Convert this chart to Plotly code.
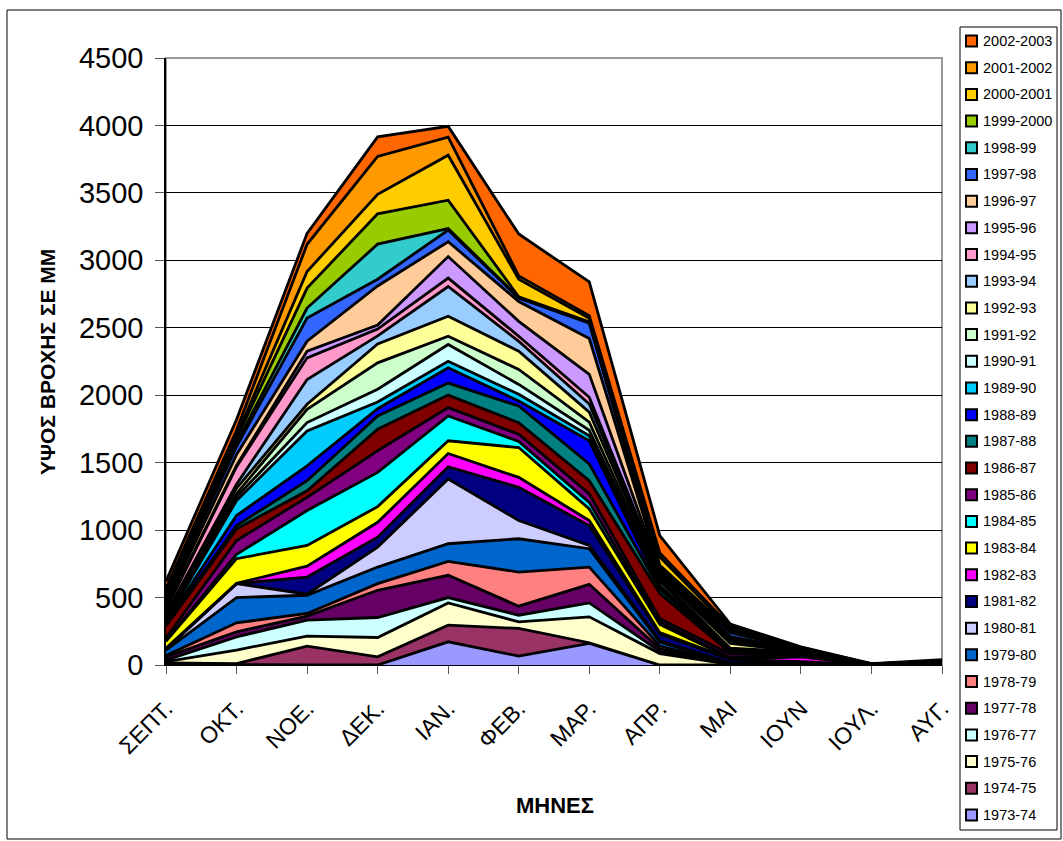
import plotly.graph_objects as go

months = ["ΣΕΠΤ.", "ΟΚΤ.", "ΝΟΕ.", "ΔΕΚ.", "ΙΑΝ.", "ΦΕΒ.", "ΜΑΡ.", "ΑΠΡ.", "ΜΑΙ", "ΙΟΥΝ", "ΙΟΥΛ.", "ΑΥΓ."]

years = ["1973-74", "1974-75", "1975-76", "1976-77", "1977-78", "1978-79", "1979-80",
         "1980-81", "1981-82", "1982-83", "1983-84", "1984-85", "1985-86", "1986-87",
         "1987-88", "1988-89", "1989-90", "1990-91", "1991-92", "1992-93", "1993-94",
         "1994-95", "1995-96", "1996-97", "1997-98", "1998-99", "1999-2000",
         "2000-2001", "2001-2002", "2002-2003"]

# monthly rainfall (mm), SEPT..AYG, one list per hydrological year
r1973_74 = [5, 0, 0, 0, 172, 66, 160, 0, 0, 0, 0, 0]
r1974_75 = [10, 10, 140, 61, 123, 205, 5, 0, 0, 0, 0, 0]
r1975_76 = [10, 101, 74, 143, 165, 49, 192, 85, 5, 0, 0, 0]
r1976_77 = [10, 98, 118, 148, 40, 49, 103, 15, 0, 0, 0, 0]
r1977_78 = [25, 37, 30, 202, 165, 67, 138, 20, 5, 0, 0, 0]
r1978_79 = [10, 67, 20, 49, 103, 253, 128, 20, 0, 20, 0, 0]
r1979_80 = [40, 187, 135, 123, 131, 247, 136, 30, 5, 0, 0, 0]
r1980_81 = [5, 103, 8, 148, 480, 135, 24, 10, 0, 0, 0, 0]
r1981_82 = [5, 0, 127, 74, 91, 246, 148, 50, 25, 5, 0, 0]
r1982_83 = [5, 2, 81, 110, 98, 74, 37, 10, 5, 35, 0, 0]
r1983_84 = [50, 183, 153, 116, 94, 221, 86, 60, 5, 5, 0, 0]
r1984_85 = [5, 32, 259, 254, 184, 45, 49, 20, 5, 5, 0, 0]
r1985_86 = [20, 103, 98, 160, 62, 54, 62, 25, 25, 5, 0, 5]
r1986_87 = [90, 86, 49, 160, 93, 86, 98, 185, 10, 5, 2, 0]
r1987_88 = [10, 25, 74, 98, 89, 123, 124, 30, 10, 5, 0, 0]
r1988_89 = [15, 74, 111, 54, 113, 37, 172, 15, 5, 5, 0, 5]
r1989_90 = [10, 111, 258, 50, 49, 50, 38, 15, 5, 2, 0, 0]
r1990_91 = [10, 26, 62, 95, 124, 73, 40, 30, 5, 3, 2, 0]
r1991_92 = [10, 25, 99, 195, 61, 111, 60, 20, 10, 3, 0, 0]
r1992_93 = [10, 40, 37, 140, 148, 135, 75, 20, 35, 2, 0, 10]
r1993_94 = [25, 30, 184, 60, 221, 74, 60, 20, 15, 3, 0, 0]
r1994_95 = [30, 130, 160, 50, 62, 37, 50, 10, 10, 3, 0, 0]
r1995_96 = [10, 10, 49, 30, 160, 111, 170, 10, 10, 3, 2, 0]
r1996_97 = [30, 80, 74, 290, 110, 147, 265, 10, 15, 3, 0, 5]
r1997_98 = [30, 60, 172, 50, 87, 25, 115, 10, 30, 3, 0, 0]
r1998_99 = [15, 25, 74, 260, 10, 5, 5, 10, 10, 3, 0, 0]
r1999_2000 = [25, 35, 148, 225, 211, 5, 5, 10, 10, 3, 2, 0]
r2000_2001 = [20, 20, 123, 145, 333, 130, 25, 60, 10, 4, 0, 5]
r2001_2002 = [30, 40, 202, 280, 135, 25, 20, 30, 15, 5, 0, 0]
r2002_2003 = [50, 80, 81, 145, 79, 310, 250, 130, 18, 5, 2, 10]

series = [r1973_74, r1974_75, r1975_76, r1976_77, r1977_78, r1978_79, r1979_80,
          r1980_81, r1981_82, r1982_83, r1983_84, r1984_85, r1985_86, r1986_87,
          r1987_88, r1988_89, r1989_90, r1990_91, r1991_92, r1992_93, r1993_94,
          r1994_95, r1995_96, r1996_97, r1997_98, r1998_99, r1999_2000,
          r2000_2001, r2001_2002, r2002_2003]

colors = ["#9999FF", "#993366", "#FFFFCC", "#CCFFFF", "#660066", "#FF8080", "#0066CC",
          "#CCCCFF", "#000080", "#FF00FF", "#FFFF00", "#00FFFF", "#800080", "#800000",
          "#008080", "#0000FF", "#00CCFF", "#CCFFFF", "#CCFFCC", "#FFFF99", "#99CCFF",
          "#FF99CC", "#CC99FF", "#FFCC99", "#3366FF", "#33CCCC", "#99CC00",
          "#FFCC00", "#FF9900", "#FF6600"]

# plot-area geometry (pixels)
W, H = 1063, 841
PL, PR, PT, PB = 166, 942, 58, 665
pw, ph = PR - PL, PB - PT

def px(x):
    return (x - PL) / pw

def py(y):
    return (PB - y) / ph

fig = go.Figure()
for name, vals, col in zip(years, series, colors):
    fig.add_trace(go.Scatter(
        x=months, y=vals, name=name, mode="lines",
        stackgroup="one", fillcolor=col,
        line=dict(color="black", width=2.8),
        showlegend=False,
    ))

# legend box drawn as shapes/annotations (Excel-style: small bordered squares)
shapes = [
    dict(type="rect", xref="paper", yref="paper", x0=0, x1=1, y0=0, y1=1,
         line=dict(color="#999999", width=2), layer="below"),
    dict(type="rect", xref="paper", yref="paper",
         x0=px(7), x1=px(1061), y0=py(839), y1=py(10),
         line=dict(color="black", width=1)),
    dict(type="rect", xref="paper", yref="paper",
         x0=px(960), x1=px(1057), y0=py(830), y1=py(27),
         line=dict(color="black", width=1), fillcolor="white"),
]
annotations = [
    dict(text="<b>ΥΨΟΣ ΒΡΟΧΗΣ ΣΕ ΜΜ</b>", xref="paper", yref="paper",
         x=px(47), y=py(362), textangle=-90, showarrow=False,
         font=dict(size=21), xanchor="center", yanchor="middle"),
    dict(text="<b>ΜΗΝΕΣ</b>", xref="paper", yref="paper",
         x=px(555), y=py(805), showarrow=False,
         font=dict(size=22), xanchor="center", yanchor="middle"),
]
n = len(years)
top_c, bot_c = 41.0, 815.0
step = (bot_c - top_c) / (n - 1)
for k, (name, col) in enumerate(zip(reversed(years), reversed(colors))):
    cy = top_c + k * step
    shapes.append(dict(type="rect", xref="paper", yref="paper",
                       x0=px(966), x1=px(977), y0=py(cy + 5.5), y1=py(cy - 5.5),
                       fillcolor=col, line=dict(color="black", width=2)))
    annotations.append(dict(text=name, xref="paper", yref="paper",
                            x=px(981), y=py(cy), xanchor="left", yanchor="middle",
                            showarrow=False, font=dict(size=14.5)))

fig.update_layout(
    width=W, height=H,
    margin=dict(l=PL, r=W - PR, t=PT, b=H - PB, pad=0),
    paper_bgcolor="white", plot_bgcolor="white",
    font=dict(family="Arial, Liberation Sans, sans-serif", color="black"),
    showlegend=False,
    xaxis=dict(
        type="category", range=[0, 11], showgrid=False,
        ticks="outside", ticklen=8, tickcolor="#555", tickwidth=1,
        tickangle=-45, tickfont=dict(size=23), ticklabelstandoff=12,
        showline=True, linecolor="black", linewidth=1,
    ),
    yaxis=dict(
        range=[0, 4500], dtick=500, showgrid=True, gridcolor="#000000", gridwidth=1,
        ticks="outside", ticklen=9, tickcolor="#555", tickwidth=1,
        tickfont=dict(size=29), ticklabelstandoff=6,
        showline=True, linecolor="black", linewidth=1.5, zeroline=False,
    ),
    shapes=shapes,
    annotations=annotations,
)

fig.write_html("out.html")
